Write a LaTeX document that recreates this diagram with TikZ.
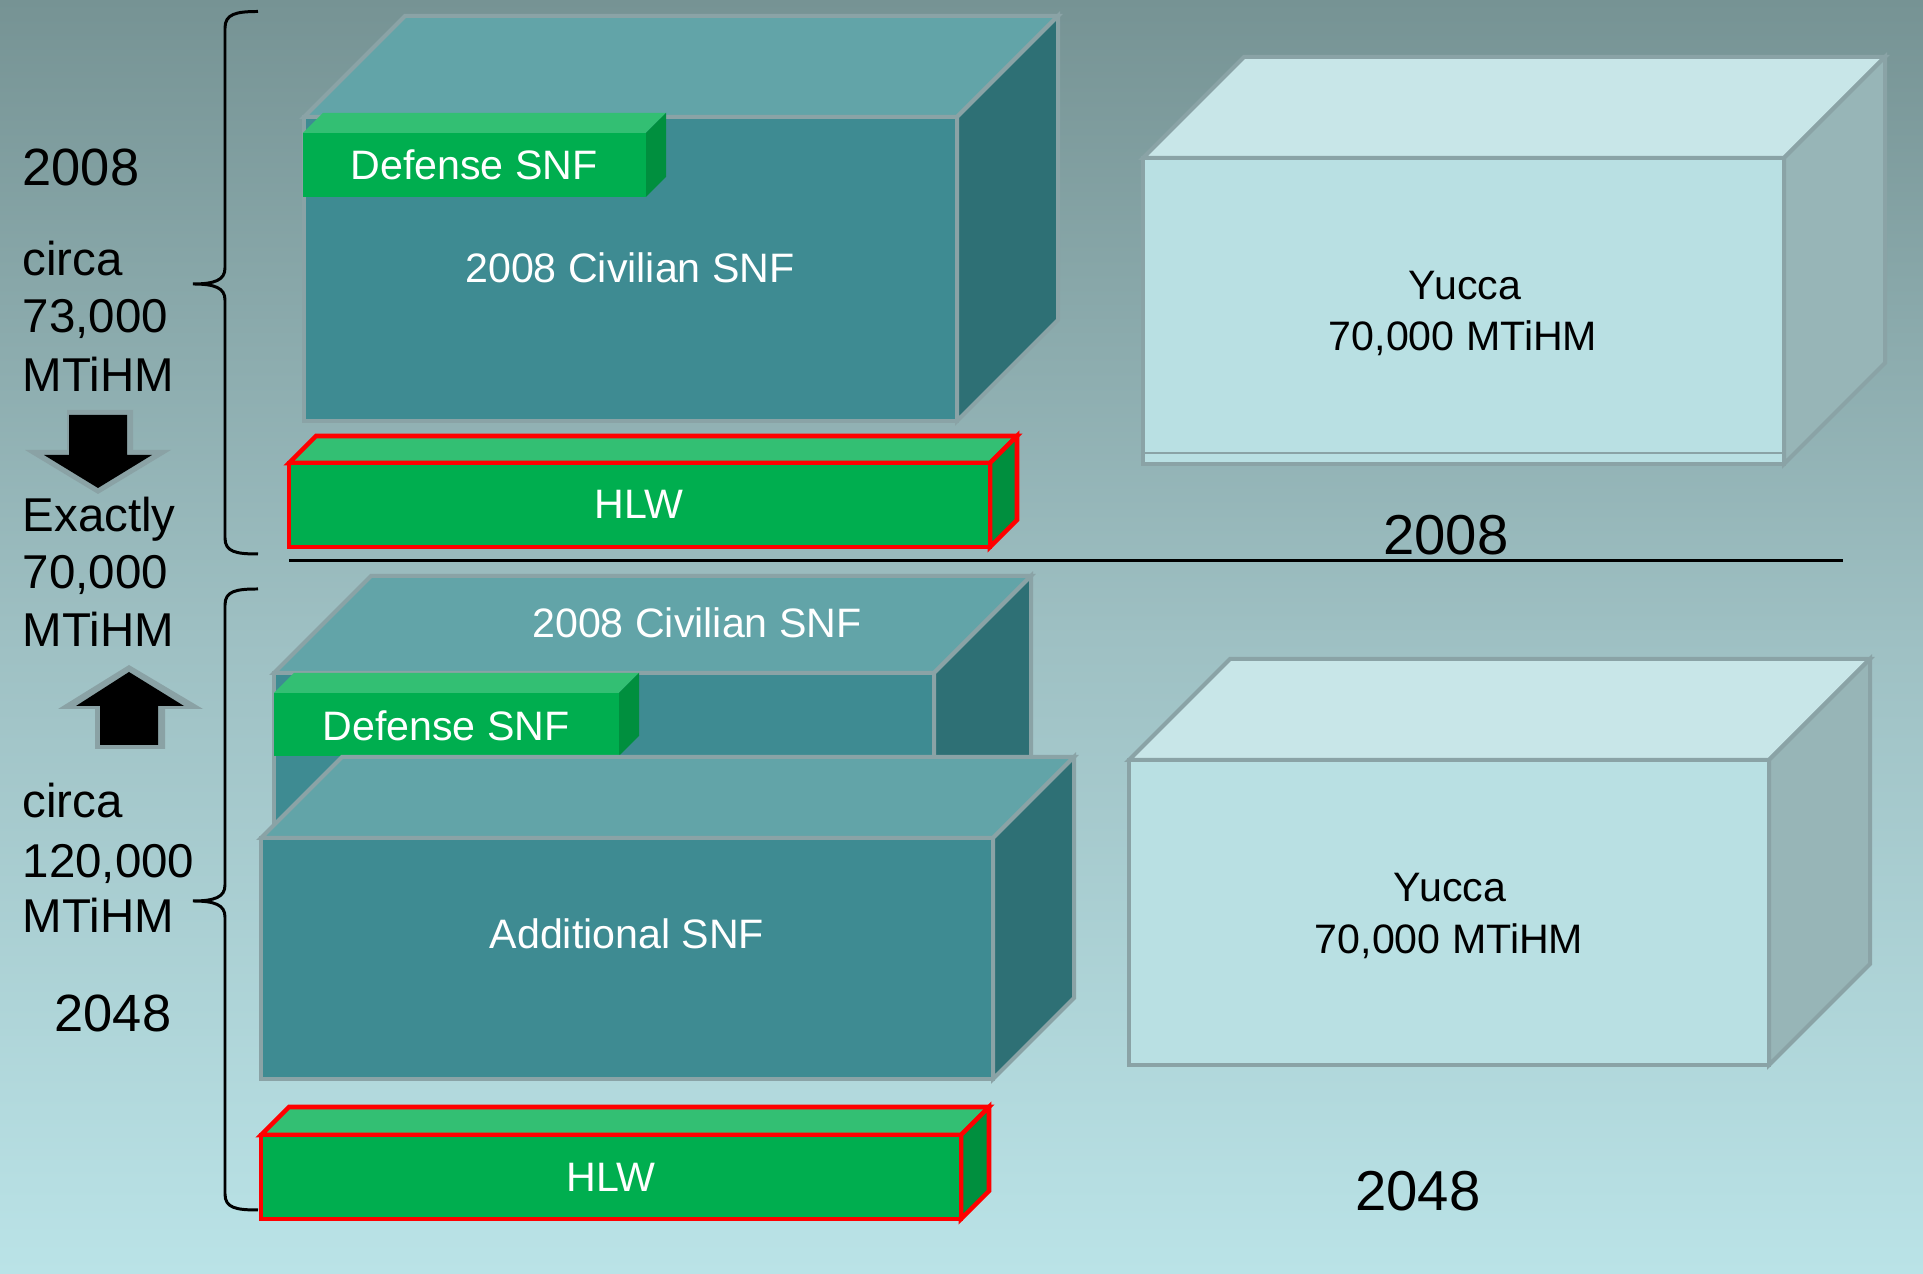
\documentclass[tikz,border=0pt]{standalone}
\usepackage{fontspec}
\setmainfont{Liberation Sans}
\definecolor{bgtop}{RGB}{118,147,148}
\definecolor{bgmid}{RGB}{158,192,195}
\definecolor{bgbot}{RGB}{186,227,231}
\definecolor{tealF}{RGB}{62,139,146}
\definecolor{tealT}{RGB}{98,164,168}
\definecolor{tealR}{RGB}{46,112,117}
\definecolor{edgeG}{RGB}{138,163,166}
\definecolor{grnF}{RGB}{0,174,79}
\definecolor{grnT}{RGB}{51,191,115}
\definecolor{grnR}{RGB}{0,143,62}
\definecolor{yucF}{RGB}{185,224,227}
\definecolor{yucT}{RGB}{200,230,232}
\definecolor{yucR}{RGB}{151,181,183}
\definecolor{arrG}{RGB}{138,162,165}
\newcommand{\prism}[6]{%
  \filldraw[#6top] (#1,#2) -- ++(#5,-#5) -- ++(#3,0) -- ++(-#5,#5) -- cycle;
  \filldraw[#6right] (#1+#3,#2) -- ++(#5,-#5) -- ++(0,#4) -- ++(-#5,#5) -- cycle;
  \filldraw[#6front] (#1,#2) rectangle ++(#3,#4);
}
\tikzset{
  gedge/.style={draw=edgeG, line width=1.14pt},
  redge/.style={draw=red, line width=1.3pt},
  tealtop/.style={fill=tealT, gedge},
  tealright/.style={fill=tealR, gedge},
  tealfront/.style={fill=tealF, gedge},
  deftop/.style={fill=grnT, draw=none},
  defright/.style={fill=grnR, draw=none},
  deffront/.style={fill=grnF, draw=none},
  hlwtop/.style={fill=grnT, redge},
  hlwright/.style={fill=grnR, redge},
  hlwfront/.style={fill=grnF, redge},
  yuctop/.style={fill=yucT, gedge},
  yucright/.style={fill=yucR, gedge},
  yucfront/.style={fill=yucF, gedge},
  boxlbl/.style={inner sep=0pt, anchor=base, font=\fontsize{11.7}{13}\selectfont, text=white},
  yuclbl/.style={inner sep=0pt, anchor=base, font=\fontsize{11.7}{13}\selectfont, text=black},
  sidelbl/.style={inner sep=0pt, anchor=base west, font=\fontsize{13.5}{15}\selectfont, text=black},
  yearlbl/.style={inner sep=0pt, anchor=base west, font=\fontsize{14.9}{16}\selectfont, text=black},
  rylbl/.style={inner sep=0pt, anchor=base, font=\fontsize{16}{17}\selectfont, text=black},
  bracestyle/.style={draw=black, line width=0.85pt},
}
\begin{document}
\begin{tikzpicture}[x=0.01cm, y=-0.01cm]
\useasboundingbox (0,0) rectangle (1923,1274);
\shade[top color=bgtop, bottom color=bgbot, middle color=bgmid] (0,0) rectangle (1923,1274);

% ---------- top group (2008) ----------
\prism{304}{117}{653}{304}{101}{teal}
\prism{303}{133}{343}{64}{20}{def}
\prism{289}{463}{701}{84}{27}{hlw}
\prism{1143}{158}{641}{306}{101}{yuc}
\draw[draw=edgeG, line width=0.5pt] (1145,453) -- (1782,453);

\node[boxlbl] (civA) at (630,283) {2008 Civilian SNF};
\node[boxlbl] (defA) at (474,180) {Defense SNF};
\node[boxlbl] (hlwA) at (639,518.6) {HLW};
\node[yuclbl] (yucA1) at (1465,300) {Yucca};
\node[yuclbl] (yucA2) at (1463,351) {70,000 MTiHM};
\node[rylbl] (yrA) at (1446,555) {2008};

\coordinate (sepL) at (289,561);
\coordinate (sepR) at (1843,561);
\draw[black, line width=0.85pt] (sepL) -- (sepR);

% ---------- bottom group (2048) ----------
\prism{274}{673}{660}{200}{97}{teal}
\prism{274}{693}{345}{63}{20}{def}
\node[boxlbl] (civB) at (697,638) {2008 Civilian SNF};
\node[boxlbl] (defB) at (446,741) {Defense SNF};
\prism{261}{838}{732}{241}{81}{teal}
\node[boxlbl] (addB) at (627,948.5) {Additional SNF};
\prism{261}{1135}{700}{84}{28}{hlw}
\node[boxlbl] (hlwB) at (611,1192) {HLW};
\prism{1129}{760}{640}{305}{101}{yuc}
\node[yuclbl] (yucB1) at (1450,902) {Yucca};
\node[yuclbl] (yucB2) at (1449,954) {70,000 MTiHM};
\node[rylbl] (yrB) at (1418,1211) {2048};

% ---------- braces ----------
\draw[bracestyle] (258,11.5) .. controls (236,11.5) and (225,14) .. (225,28) -- (225,268)
  .. controls (225,280) and (215,284) .. (193,284)
  .. controls (215,284) and (225,288) .. (225,300) -- (225,538)
  .. controls (225,552) and (236,554) .. (258,554);
\draw[bracestyle] (258,589) .. controls (236,589) and (225,591) .. (225,605) -- (225,885)
  .. controls (225,897) and (215,901) .. (193,901)
  .. controls (215,901) and (225,905) .. (225,917) -- (225,1194)
  .. controls (225,1208) and (236,1210) .. (258,1210);

% ---------- arrows ----------
\fill[arrG] (67,410) -- (133,410) -- (133,450) -- (171,450) -- (98,494) -- (25,450) -- (67,450) -- cycle;
\fill[black] (69,415) -- (127,415) -- (127,455) -- (152,455) -- (98,488) -- (44,455) -- (69,455) -- cycle;
\fill[arrG] (95,749) -- (165,749) -- (165,709) -- (203,709) -- (129,665) -- (58,709) -- (95,709) -- cycle;
\fill[black] (100,745) -- (158,745) -- (158,706) -- (184,706) -- (129,672) -- (76,706) -- (100,706) -- cycle;

% ---------- left labels ----------
\node[yearlbl] (l2008) at (22,186) {2008};
\node[sidelbl] (lcircaA) at (22,275.5) {circa};
\node[sidelbl] (l73) at (22,333) {73,000};
\node[sidelbl] (lmtA) at (22,392) {MTiHM};
\node[sidelbl] (lexact) at (22,532) {Exactly};
\node[sidelbl] (l70) at (22,589) {70,000};
\node[sidelbl] (lmtB) at (22,647) {MTiHM};
\node[sidelbl] (lcircaB) at (22,818) {circa};
\node[sidelbl] (l120) at (22,878) {120,000};
\node[sidelbl] (lmtC) at (22,933) {MTiHM};
\node[yearlbl] (l2048) at (54,1032) {2048};
\end{tikzpicture}
\end{document}
